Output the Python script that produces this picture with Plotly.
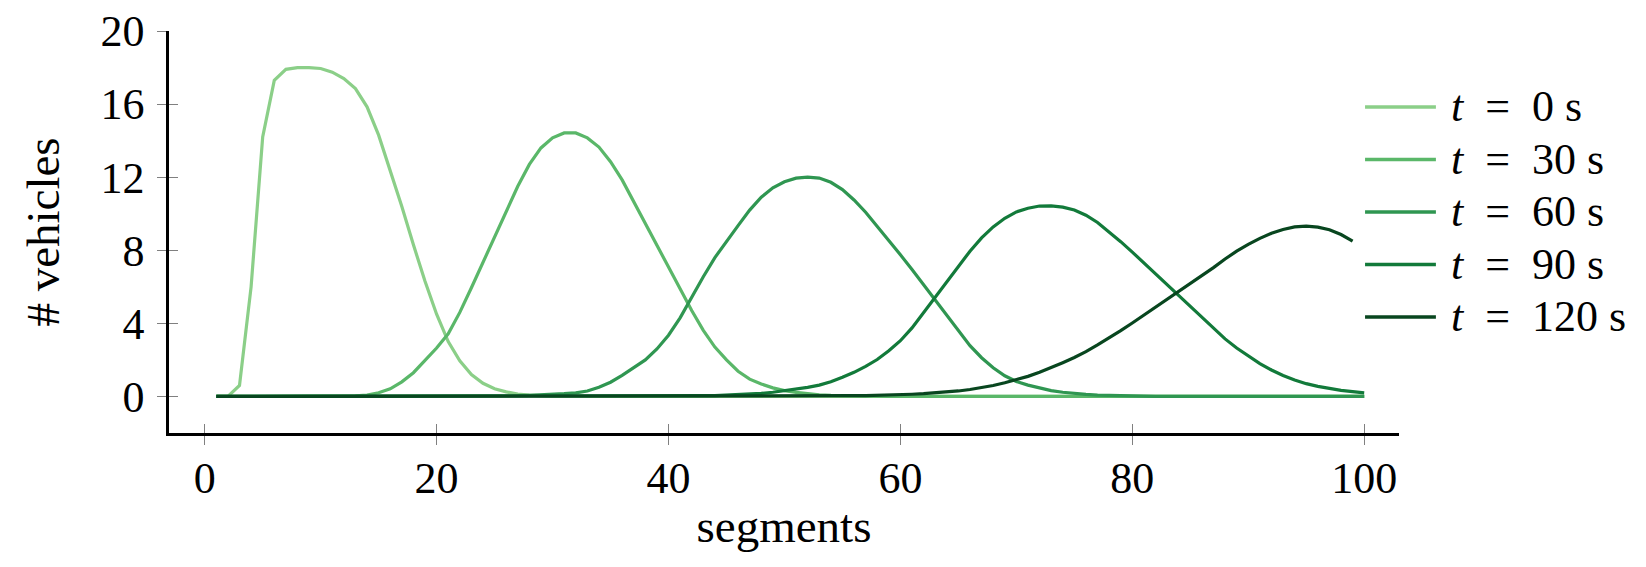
import plotly.graph_objects as go

segments = list(range(1, 101))

labels = ["<i>t</i>&nbsp; = &nbsp;0&nbsp;s", "<i>t</i>&nbsp; = &nbsp;30&nbsp;s", "<i>t</i>&nbsp; = &nbsp;60&nbsp;s",
          "<i>t</i>&nbsp; = &nbsp;90&nbsp;s", "<i>t</i>&nbsp; = &nbsp;120&nbsp;s"]
colors = ["#8bcf88", "#5ab769", "#2f9651", "#127a3a", "#08461f"]

# values (segments 1..100)
t0 = ([0, 0, 0.6, 6.0, 14.2, 17.3, 17.9, 18.0, 18.0, 17.95,
       17.75, 17.4, 16.85, 15.85, 14.3, 12.4, 10.4, 8.3, 6.3, 4.5,
       3.0, 1.95, 1.2, 0.72, 0.42, 0.25, 0.13, 0.07, 0.03, 0.02,
       0.01] + [0] * 69)

t30 = ([0] * 12 +
       [0.03, 0.08, 0.2, 0.42, 0.8, 1.3, 1.95, 2.65, 3.43, 4.6,
        5.95, 7.35, 8.75, 10.15, 11.5, 12.7, 13.6, 14.15, 14.42, 14.42,
        14.15, 13.65, 12.85, 11.85, 10.65, 9.45, 8.28, 7.1, 5.85, 4.7,
        3.62, 2.7, 2.0, 1.38, 0.95, 0.68, 0.47, 0.32, 0.22, 0.14,
        0.09, 0.06, 0.04, 0.02, 0.015, 0.01] + [0] * 42)

t60 = ([0] * 24 +
       [0.02, 0.03, 0.04, 0.06, 0.08, 0.11, 0.15, 0.2, 0.3, 0.5,
        0.78, 1.15, 1.55, 2.0, 2.6, 3.35, 4.3, 5.45, 6.55, 7.6,
        8.5, 9.35, 10.2, 10.9, 11.42, 11.75, 11.95, 12.0, 11.95, 11.72,
        11.32, 10.75, 10.08, 9.32, 8.52, 7.75, 6.95, 6.12, 5.3, 4.45,
        3.6, 2.78, 2.12, 1.57, 1.13, 0.82, 0.62, 0.45, 0.32, 0.23,
        0.16, 0.11, 0.07, 0.05, 0.03, 0.02, 0.01] + [0] * 19)

t90 = ([0] * 40 +
       [0.02, 0.03, 0.04, 0.05, 0.07, 0.1, 0.13, 0.17, 0.23, 0.31,
        0.4, 0.5, 0.62, 0.8, 1.05, 1.32, 1.65, 2.02, 2.5, 3.05,
        3.75, 4.6, 5.45, 6.3, 7.15, 7.95, 8.68, 9.28, 9.75, 10.1,
        10.3, 10.42, 10.43, 10.36, 10.2, 9.92, 9.52, 9.02, 8.47, 7.9,
        7.3, 6.7, 6.1, 5.5, 4.9, 4.3, 3.7, 3.15, 2.65, 2.2,
        1.8, 1.45, 1.15, 0.9, 0.7, 0.55, 0.43, 0.33, 0.26, 0.2])

t120 = ([0] * 50 +
        [0.01, 0.01, 0.02, 0.02, 0.03, 0.04, 0.05, 0.06, 0.08, 0.1,
         0.12, 0.15, 0.19, 0.24, 0.3, 0.38, 0.48, 0.6, 0.75, 0.92,
         1.1, 1.32, 1.57, 1.85, 2.13, 2.45, 2.82, 3.2, 3.6, 4.02,
         4.45, 4.88, 5.3, 5.72, 6.15, 6.6, 7.05, 7.52, 7.95, 8.32,
         8.65, 8.93, 9.14, 9.28, 9.32, 9.27, 9.12, 8.86, 8.5])

series = [t0, t30, t60, t90, t120]

x_ticks = [0, 20, 40, 60, 80, 100]
y_ticks = [0, 4, 8, 12, 16, 20]

FONT = "Liberation Serif"
TICK_SIZE = 44
TITLE_SIZE = 47

fig = go.Figure()
for name, col, vals in zip(labels, colors, series):
    fig.add_trace(go.Scatter(x=segments[:len(vals)], y=vals, mode="lines", name=name,
                             line=dict(color=col, width=3.2), showlegend=False))

# custom legend (long line samples, as in the reference)
row0, dy = 0.811, 0.1306
for i, (name, col) in enumerate(zip(labels, colors)):
    yy = row0 - i * dy
    fig.add_shape(type="line", xref="paper", yref="paper", x0=0.9724, x1=1.030, y0=yy, y1=yy,
                  line=dict(color=col, width=3.5))
    fig.add_annotation(xref="paper", yref="paper", x=1.0407, y=yy, text=name, showarrow=False,
                       xanchor="left", yanchor="middle", font=dict(family=FONT, size=TICK_SIZE, color="black"))

common_tick = dict(ticklen=9, tickwidth=1, tickcolor="#808080")
# the page body has an 8 px default margin, so the figure is 8 px smaller on each side
fig.update_layout(
    width=1638, height=559,
    paper_bgcolor="white", plot_bgcolor="white",
    margin=dict(l=161, r=247, t=23, b=134),
    font=dict(family=FONT, size=TITLE_SIZE, color="black"),
    xaxis=dict(range=[-3.08, 103.0], tickvals=x_ticks, ticks="outside", **common_tick,
               showline=True, linecolor="black", linewidth=2.5, showgrid=False, zeroline=False,
               automargin=False, ticklabeloverflow="allow", ticklabelstandoff=-5,
               title=dict(text="segments", standoff=8, font=dict(size=TITLE_SIZE)),
               tickfont=dict(size=TICK_SIZE)),
    yaxis=dict(range=[-2, 20], tickvals=y_ticks, ticks="outside", **common_tick,
               showline=True, linecolor="black", linewidth=2.5, showgrid=False, zeroline=False,
               automargin=False, ticklabeloverflow="allow", ticklabelstandoff=4,
               title=dict(text="# vehicles", standoff=27, font=dict(size=TITLE_SIZE)),
               tickfont=dict(size=TICK_SIZE)),
    xaxis2=dict(range=[-3.08, 103.0], tickvals=x_ticks, ticks="inside", **common_tick,
                overlaying="x", anchor="y", side="bottom", showticklabels=False,
                showline=False, showgrid=False, zeroline=False),
    yaxis2=dict(range=[-2, 20], tickvals=y_ticks, ticks="inside", **common_tick,
                overlaying="y", anchor="x", side="left", showticklabels=False,
                showline=False, showgrid=False, zeroline=False),
)
fig.add_trace(go.Scatter(x=[None], y=[None], xaxis="x2", yaxis="y2", showlegend=False, hoverinfo="skip"))

fig.write_html("out.html")
